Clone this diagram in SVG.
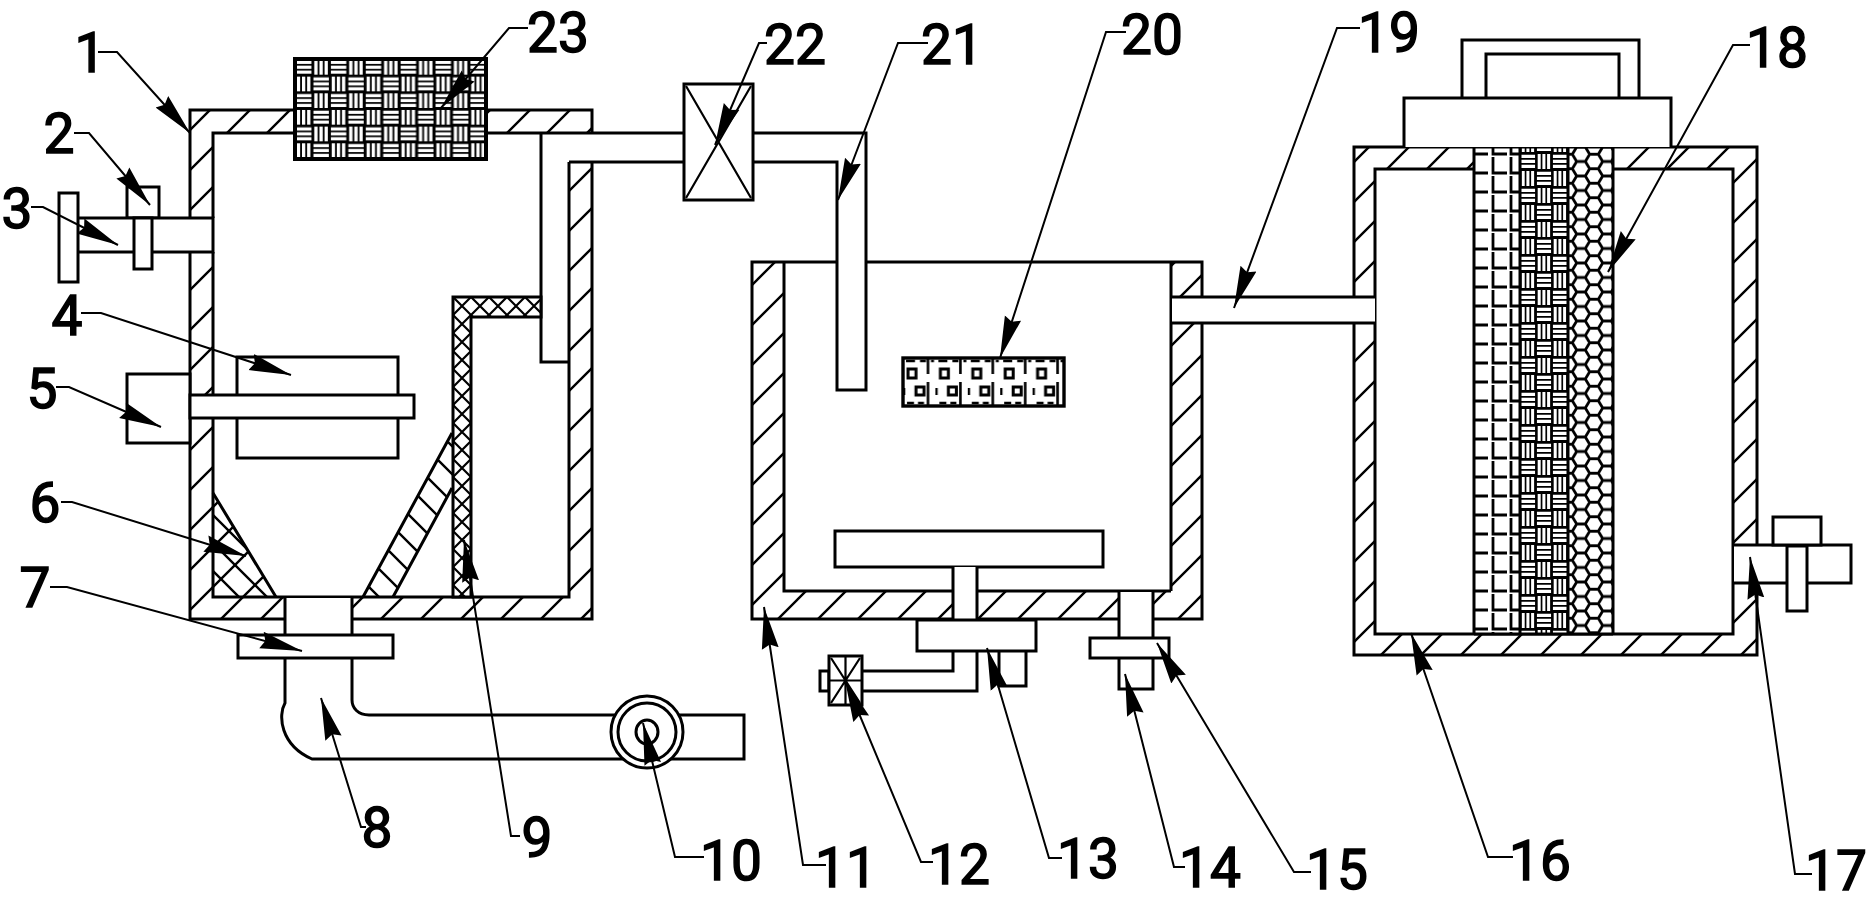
<svg xmlns="http://www.w3.org/2000/svg" width="1871" height="904" viewBox="0 0 1871 904">
<style>
.s{fill:none;stroke:#000;stroke-width:3}
.w{fill:#fff;stroke:#000;stroke-width:3}
.n{fill:#fff;stroke:none}
.l{fill:none;stroke:#000;stroke-width:2;marker-end:url(#a)}
text{font-family:Roboto,"Liberation Sans",Arial,sans-serif;font-size:55px;fill:#000;stroke:#000;stroke-width:1.5;text-anchor:middle}
</style>
<defs>
<marker id="a" markerUnits="userSpaceOnUse" markerWidth="44" markerHeight="20" refX="42" refY="10" orient="auto"><path d="M42,10L0,1.5L4,10L0,18.5Z"/></marker>
<pattern id="h1" patternUnits="userSpaceOnUse" x="0" y="0" width="40" height="40"><path d="M-2,2L2,-2M0,40L40,0M38,42L42,38" fill="none" stroke="#000" stroke-width="2.4"/></pattern>
<pattern id="h2" patternUnits="userSpaceOnUse" x="-3" y="0" width="40" height="40"><path d="M-2,2L2,-2M0,40L40,0M38,42L42,38" fill="none" stroke="#000" stroke-width="2.4"/></pattern>
<pattern id="h3" patternUnits="userSpaceOnUse" x="-4" y="0" width="40" height="40"><path d="M-2,2L2,-2M0,40L40,0M38,42L42,38" fill="none" stroke="#000" stroke-width="2.4"/></pattern>
<pattern id="b" patternUnits="userSpaceOnUse" x="6" y="0" width="28" height="28"><path d="M-2,-2L30,30M-2,26L2,30M26,-2L30,2" fill="none" stroke="#000" stroke-width="2.4"/></pattern>
<pattern id="x" patternUnits="userSpaceOnUse" x="453" y="297" width="18" height="18"><path d="M0,0L18,18M18,0L0,18" fill="none" stroke="#000" stroke-width="2.2"/></pattern>
<g id="tile"><rect width="34" height="34" fill="#000"/><path d="M1,1.8h15v3.2h-15zM1,6.8h15v3.2h-15zM1,11.8h15v3.2h-15zM18,18.8h15v3.2h-15zM18,23.8h15v3.2h-15zM18,28.8h15v3.2h-15zM18.8,1h3.2v15h-3.2zM23.8,1h3.2v15h-3.2zM28.8,1h3.2v15h-3.2zM1.8,18h3.2v15h-3.2zM6.8,18h3.2v15h-3.2zM11.8,18h3.2v15h-3.2z" fill="#fff"/></g>
<pattern id="w1" patternUnits="userSpaceOnUse" width="34" height="34" patternTransform="translate(295,59) scale(1.026,.98)"><use href="#tile"/></pattern>
<pattern id="w2" patternUnits="userSpaceOnUse" width="34" height="34" patternTransform="translate(1520,153) scale(.941,1)"><use href="#tile"/></pattern>
<pattern id="g" patternUnits="userSpaceOnUse" x="1474" y="4" width="46" height="19"><path d="M0,17H14M19,1V17H33M37,1V17H46" fill="none" stroke="#000" stroke-width="2.8"/></pattern>
<pattern id="hx" patternUnits="userSpaceOnUse" x="1568" y="147" width="26" height="14.5"><path d="M0,7.25H4.33L8.67,0H17.33L21.67,7.25H26M4.33,7.25L8.67,14.5H17.33L21.67,7.25" fill="none" stroke="#000" stroke-width="2.8"/></pattern>
<pattern id="m" patternUnits="userSpaceOnUse" x="903" y="358" width="32.4" height="48"><path d="M3,3H12M17,3H23M28,3H31M25,0V16M25,24V48M4,45H11M15,45H21" fill="none" stroke="#000" stroke-width="2.6"/><rect x="5" y="11" width="8" height="9" fill="none" stroke="#000" stroke-width="3"/><rect x="13" y="29" width="8" height="8" fill="none" stroke="#000" stroke-width="3"/><path d="M1,30V37" stroke="#000" stroke-width="2.6"/></pattern>
</defs>
<rect width="1871" height="904" fill="#fff"/>

<g id="part-1">
<path d="M190,110H592V619H190ZM213,133H570V597H213Z" fill="url(#h1)" fill-rule="evenodd"/>
<rect class="n" x="542" y="134" width="60" height="28"/>
<path class="s" d="M592,133V110H190V218M190,252V619H285M352,619H592V162M213,218V133H569M541,133V362H569M569,162V597H213V418M213,395V252"/>
<text x="90" y="72">1</text>
</g>
<g id="part-9">
<path d="M453,597V297H541V317H471V597Z" fill="#fff"/>
<path d="M453,597V297H541V317H471V597Z" fill="url(#x)" stroke="#000" stroke-width="3"/>
<text x="537" y="857">9</text>
</g>
<g id="part-6">
<path d="M213,493L276,597H213Z" fill="url(#b)"/>
<path d="M213,493L276,597H213Z" fill="url(#h1)"/>
<path d="M363,597H393L452,488V433Z" fill="url(#b)"/>
<path class="s" d="M213,493L276,597M363,597L452,433M393,597L452,488"/>
<text x="45" y="522">6</text>
</g>
<g id="part-2">
<rect class="w" x="127" y="187" width="32" height="31"/>
<path class="n" d="M78,218H214V252H78Z"/>
<path class="s" d="M78,218H213V252H78"/>
<rect class="w" x="134" y="218" width="18" height="51"/>
<text x="59" y="153">2</text>
</g>
<g id="part-3">
<rect class="w" x="59" y="193" width="19" height="89"/>
<text x="17" y="228">3</text>
</g>
<g id="part-4">
<rect class="s" x="237" y="357" width="161" height="101"/>
<text x="67" y="335">4</text>
</g>
<g id="part-5">
<rect class="w" x="127" y="374" width="63" height="69"/>
<rect class="w" x="190" y="395" width="224" height="23"/>
<text x="42" y="408">5</text>
</g>
<g id="part-7">
<path class="n" d="M285,598H352V636H285Z"/>
<path class="s" d="M285,597V635M352,597V635"/>
<rect class="w" x="238" y="635" width="155" height="23"/>
<text x="35" y="607">7</text>
</g>
<g id="part-8">
<path class="s" d="M285,658V703C278,715 280,745 312,759H744V715H369C358,715 352,708 352,700V658"/>
<text x="377" y="847">8</text>
</g>
<g id="part-10">
<circle class="w" cx="647" cy="732" r="36"/>
<circle class="s" cx="647" cy="732" r="29"/>
<ellipse class="s" cx="647" cy="732" rx="11" ry="12"/>
<text x="731" y="880">10</text>
</g>
<g id="part-23">
<rect x="295" y="59" width="191" height="100" fill="url(#w1)" stroke="#000" stroke-width="4"/>
<text x="558" y="52">23</text>
</g>
<g id="part-22">
<path class="s" d="M569,133H683M569,162H683"/>
<rect class="w" x="684" y="84" width="69" height="116"/>
<path class="s" d="M686,86L751,198M751,86L686,198" style="stroke-width:2.2"/>
<text x="795" y="64">22</text>
</g>

<g id="part-11">
<path d="M752,262H784V591H1171V262H1202V619H752Z" fill="url(#h2)"/>
<path class="s" d="M1171,591V262M784,262V591H1171M1202,297V262H752V619H1202V323M752,262H1202"/>
<text x="846" y="887">11</text>
</g>
<g id="part-21">
<path class="n" d="M838,134H865V389H838Z"/>
<path class="s" d="M753,133H866V390H837V162H753"/>
<text x="952" y="64">21</text>
</g>
<g id="part-20">
<rect x="903" y="358" width="161" height="48" fill="url(#m)" stroke="#000" stroke-width="3.4"/>
<text x="1152" y="54">20</text>
</g>
<g id="part-13">
<rect class="w" x="835" y="531" width="268" height="36"/>
<rect class="n" x="954" y="567" width="22" height="54"/>
<path class="s" d="M953,567V620M977,567V620"/>
<rect class="w" x="917" y="620" width="119" height="31"/>
<path class="s" d="M953,651V671H862M977,651V691H862M999,651V686H1026V651"/>
<text x="1088" y="878">13</text>
</g>
<g id="part-12">
<rect class="w" x="820" y="671" width="9" height="20"/>
<rect class="w" x="829" y="656" width="33" height="49"/>
<path class="s" d="M845.5,656V705M829,680.5H862M831,703L860,658M831,658L860,703" style="stroke-width:2.2"/>
<text x="959" y="884">12</text>
</g>
<g id="part-14">
<rect class="n" x="1120" y="592" width="32" height="46"/>
<path class="s" d="M1119,591V638M1153,591V638M1119,658V689H1153V658"/>
<text x="1210" y="887">14</text>
</g>
<g id="part-15">
<rect class="w" x="1090" y="638" width="79" height="20"/>
<text x="1337" y="889">15</text>
</g>
<g id="part-16">
<path d="M1354,147H1757V655H1354ZM1375,169H1733V634H1375Z" fill="url(#h3)" fill-rule="evenodd"/>
<path class="s" d="M1354,297V147H1757V545M1757,583V655H1354V323M1375,169H1733V634H1375Z"/>
<text x="1540" y="880">16</text>
</g>
<g id="part-19">
<rect class="n" x="1172" y="298" width="203" height="24"/>
<path class="s" d="M1171,297H1375M1171,323H1375"/>
<text x="1389" y="52">19</text>
</g>
<g id="part-18">
<rect class="n" x="1474" y="147" width="139" height="487"/>
<rect x="1474" y="148" width="46" height="486" fill="url(#g)"/>
<rect x="1520" y="148" width="48" height="486" fill="url(#w2)"/>
<rect x="1568" y="148" width="45" height="486" fill="url(#hx)"/>
<path class="s" d="M1474,147V634M1613,147V634M1520,147V634M1568,147V634M1474,147H1613M1474,634H1613"/>
<path class="w" d="M1404,147V98H1671V147"/>
<path class="s" d="M1462,98V40H1639V98M1486,98V54H1619V98"/>
<text x="1777" y="67">18</text>
</g>
<g id="part-17">
<rect class="n" x="1734" y="546" width="116" height="36"/>
<path class="s" d="M1733,545H1851V583H1733"/>
<rect class="w" x="1773" y="517" width="48" height="28"/>
<rect class="w" x="1787" y="546" width="20" height="65"/>
<text x="1836" y="890">17</text>
</g>
<g id="connectors">
<path class="l" d="M98,52H117L190,133"/>
<path class="l" d="M74,133H89L150,205"/>
<path class="l" d="M31,207H43L118,245"/>
<path class="l" d="M81,313H101L291,375"/>
<path class="l" d="M56,387H69L161,427"/>
<path class="l" d="M61,502H72L246,556"/>
<path class="l" d="M50,587H67L302,651"/>
<path class="l" d="M366,827H361L321,698"/>
<path class="l" d="M520,836H511L464,540"/>
<path class="l" d="M704,857H675L643,723"/>
<path class="l" d="M826,865H803L764,607"/>
<path class="l" d="M933,862H921L845,680"/>
<path class="l" d="M1062,858H1049L987,648"/>
<path class="l" d="M1185,867H1174L1125,674"/>
<path class="l" d="M1311,872H1294L1157,643"/>
<path class="l" d="M1513,857H1488L1411,633"/>
<path class="l" d="M1812,874H1795L1750,557"/>
<path class="l" d="M1750,45H1733L1608,272"/>
<path class="l" d="M1360,28H1337L1234,308"/>
<path class="l" d="M1126,32H1106L1000,358"/>
<path class="l" d="M928,43H898L838,200"/>
<path class="l" d="M767,43H759L715,145"/>
<path class="l" d="M528,28H509L441,108"/>
</g>
</svg>
